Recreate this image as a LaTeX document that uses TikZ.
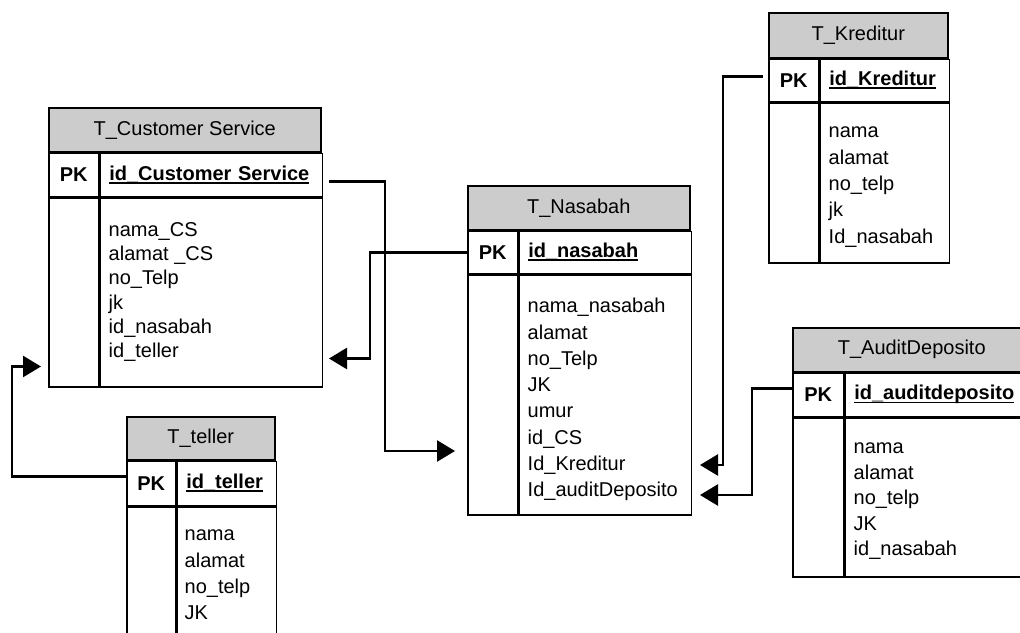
\documentclass[tikz,border=0pt]{standalone}
\usepackage{fontspec}
\setmainfont{Liberation Sans}
\usepackage{tikz}
\usetikzlibrary{arrows.meta}
\newcommand{\pkey}[1]{\setbox0\hbox{#1}\rlap{\rule[-3.5pt]{\wd0}{1.8pt}}\box0}

\begin{document}
\fontsize{20}{26.3}\selectfont
\begin{tikzpicture}[x=1pt,y=-1pt,
  tblhead/.style={draw,line width=1.5pt,fill=black!20,anchor=north west,minimum height=44pt,inner sep=0pt},
  pkcell/.style={draw,line width=1.5pt,anchor=north west,minimum height=43pt,inner sep=0pt,font=\bfseries},
  keycell/.style={draw,line width=1.5pt,anchor=north west,minimum height=43pt,inner xsep=9pt,inner ysep=0pt,text width=#1,align=left,font=\bfseries},
  bodycell/.style={draw,line width=1.5pt,anchor=north west,inner sep=0pt},
  fields/.style={anchor=north west,inner sep=0pt,align=left},
  fk/.style={line width=2.6pt,-{Triangle[length=18pt,width=21pt]}}]
\clip (0,0) rectangle (1020,632);
% T_Customer Service
\node[tblhead,minimum width=272pt] (CS) at (48,107) {T\_Customer Service};
\node[pkcell,minimum width=50pt] (CSPK) at (CS.south west) {PK};
\node[keycell=204pt] (CSID) at (CSPK.north east) {\pkey{id\_Customer Service}};
\node[bodycell,minimum width=50pt,minimum height=189pt] (CSL) at (CSPK.south west) {};
\node[bodycell,minimum width=222pt,minimum height=189pt] (CSF) at (CSID.south west) {};
\node[fields,font=\fontsize{20}{24.3}\selectfont] (CSTXT) at ([shift={(9,25)}]CSF.north west) {nama\_CS\\alamat \_CS\\no\_Telp\\jk\\id\_nasabah\\id\_teller};
% T_Nasabah
\node[tblhead,minimum width=222pt] (NB) at (467,185) {T\_Nasabah};
\node[pkcell,minimum width=50pt,minimum height=42pt] (NBPK) at (NB.south west) {PK};
\node[keycell=154pt,minimum height=42pt] (NBID) at (NBPK.north east) {\pkey{id\_nasabah}};
\node[bodycell,minimum width=50pt,minimum height=240pt] (NBL) at (NBPK.south west) {};
\node[bodycell,minimum width=172pt,minimum height=240pt] (NBF) at (NBID.south west) {};
\node[fields] (NBTXT) at ([shift={(9,24)}]NBF.north west) {nama\_nasabah\\alamat\\no\_Telp\\JK\\umur\\id\_CS\\Id\_Kreditur\\Id\_auditDeposito};
% T_Kreditur
\node[tblhead,minimum width=179pt,minimum height=45pt] (KR) at (768,12) {T\_Kreditur};
\node[pkcell,minimum width=50pt,minimum height=42pt] (KRPK) at (KR.south west) {PK};
\node[keycell=111pt,minimum height=42pt] (KRID) at (KRPK.north east) {\pkey{id\_Kreditur}};
\node[bodycell,minimum width=50pt,minimum height=160pt] (KRL) at (KRPK.south west) {};
\node[bodycell,minimum width=129pt,minimum height=160pt] (KRF) at (KRID.south west) {};
\node[fields] (KRTXT) at ([shift={(9,25)}]KRF.north west) {nama\\alamat\\no\_telp\\jk\\Id\_nasabah};
% T_AuditDeposito
\node[tblhead,minimum width=238pt] (AD) at (792,327) {T\_AuditDeposito};
\node[pkcell,minimum width=51pt] (ADPK) at (AD.south west) {PK};
\node[keycell=169pt] (ADID) at (ADPK.north east) {\pkey{id\_auditdeposito}};
\node[bodycell,minimum width=51pt,minimum height=159pt] (ADL) at (ADPK.south west) {};
\node[bodycell,minimum width=187pt,minimum height=159pt] (ADF) at (ADID.south west) {};
\node[fields,font=\fontsize{20}{25.4}\selectfont] (ADTXT) at ([shift={(9,26)}]ADF.north west) {nama\\alamat\\no\_telp\\JK\\id\_nasabah};
% T_teller
\node[tblhead,minimum width=148pt,minimum height=43pt] (TL) at (126,416) {T\_teller};
\node[pkcell,minimum width=49pt,minimum height=44pt] (TLPK) at (TL.south west) {PK};
\node[keycell=81pt,minimum height=44pt] (TLID) at (TLPK.north east) {\pkey{id\_teller}};
\node[bodycell,minimum width=49pt,minimum height=150pt] (TLL) at (TLPK.south west) {};
\node[bodycell,minimum width=99pt,minimum height=150pt] (TLF) at (TLID.south west) {};
\node[fields] (TLTXT) at ([shift={(8,24)}]TLF.north west) {nama\\alamat\\no\_telp\\JK};
% relations
\draw[fk] ([shift={(6,7)}]CSID.east) -- ++(56,0) |- ([shift={(-12,177)}]NBL.north west);
\draw[fk] (NBPK.west) -- ++(-97,0) |- ([shift={(6,-29)}]CSF.south east);
\draw[fk] ([shift={(-5,-4)}]KRPK.west) -- ++(-40,0) |- ([shift={(8,191)}]NBF.north east);
\draw[fk] ([shift={(0,-6)}]ADPK.west) -- ++(-40,0) |- ([shift={(8,221)}]NBF.north east);
\draw[fk] ([shift={(0,-7)}]TLPK.west) -- ++(-114,0) |- ([shift={(-7,-21)}]CSL.south west);
\end{tikzpicture}
\end{document}
